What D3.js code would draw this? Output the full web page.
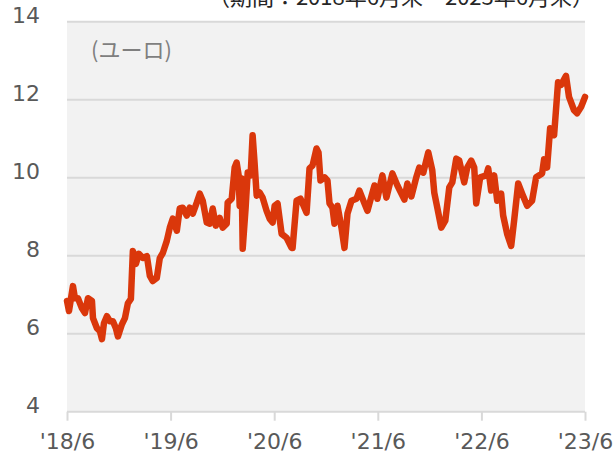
<!DOCTYPE html>
<html>
<head>
<meta charset="utf-8">
<script src="https://cdn.jsdelivr.net/npm/d3@7"></script>
<style>
  body { margin: 0; background: #fff; }
  svg { display: block; }
</style>
</head>
<body>
<svg id="chart"></svg>
<script>
// months since 2018/6 end, and price in euro
const months = [
  0, 0.23, 0.69, 0.92, 1.27, 1.73, 2.08, 2.43, 2.89, 3.01,
  3.47, 3.82, 4.05, 4.28, 4.62, 4.97, 5.32, 5.66, 5.90, 6.36,
  6.71, 7.05, 7.40, 7.63, 7.98, 8.32, 8.79, 9.25, 9.60, 9.94,
  10.40, 10.75, 11.10, 11.56, 11.91, 12.25, 12.72, 13.06, 13.41, 13.87,
  14.22, 14.57, 15.03, 15.38, 15.72, 16.19, 16.53, 16.88, 17.23, 17.69,
  18.03, 18.50, 18.61, 19.08, 19.42, 19.65, 19.88, 20.00, 20.23, 20.35,
  20.69, 20.93, 21.27, 21.50, 21.73, 21.97, 22.31, 22.66, 23.12, 23.47,
  23.82, 24.05, 24.39, 24.86, 25.43, 26.01, 26.13, 26.59, 27.05, 27.75,
  28.09, 28.44, 28.90, 29.13, 29.36, 29.83, 30.17, 30.41, 30.75, 30.98,
  31.33, 31.79, 32.14, 32.49, 32.95, 33.53, 33.87, 34.45, 34.80, 35.61,
  35.95, 36.53, 37.00, 37.69, 38.27, 39.08, 39.42, 39.89, 40.46, 40.81,
  41.27, 41.85, 42.31, 42.54, 42.89, 43.35, 43.82, 44.28, 44.63, 45.09,
  45.43, 46.01, 46.36, 46.82, 47.17, 47.40, 47.86, 48.56, 48.79, 49.13,
  49.48, 49.83, 50.29, 50.52, 50.98, 51.45, 51.79, 52.26, 52.72, 53.30,
  53.87, 54.34, 55.03, 55.26, 55.61, 55.96, 56.42, 56.88, 57.23, 57.80,
  58.15, 58.73, 59.08, 59.54, 60
];
const prices = [
  6.84, 6.58, 7.22, 6.91, 6.91, 6.65, 6.53, 6.91, 6.84, 6.40,
  6.14, 6.06, 5.86, 6.27, 6.45, 6.32, 6.32, 6.14, 5.93, 6.24,
  6.40, 6.78, 6.89, 8.12, 7.79, 8.05, 7.94, 7.99, 7.48, 7.35,
  7.43, 7.94, 8.07, 8.38, 8.72, 8.95, 8.64, 9.21, 9.23, 9.03,
  9.23, 9.08, 9.36, 9.59, 9.41, 8.85, 8.82, 9.21, 8.77, 8.97,
  8.72, 8.82, 9.36, 9.46, 10.26, 10.39, 10.06, 9.28, 9.98, 8.18,
  9.23, 10.13, 10.06, 11.09, 10.37, 9.54, 9.62, 9.49, 9.15, 8.95,
  8.85, 9.28, 9.34, 8.56, 8.46, 8.20, 8.20, 9.41, 9.46, 9.10,
  10.24, 10.31, 10.75, 10.65, 9.93, 10.01, 9.93, 9.34, 9.23, 8.82,
  9.28, 8.72, 8.20, 9.08, 9.41, 9.46, 9.67, 9.34, 9.15, 9.80,
  9.46, 10.06, 9.49, 10.11, 9.80, 9.44, 9.85, 9.52, 10.01, 10.26,
  10.13, 10.65, 10.19, 9.62, 9.23, 8.72, 8.90, 9.75, 9.88, 10.49,
  10.44, 9.88, 10.26, 10.44, 10.26, 9.34, 10.01, 10.06, 10.24, 9.67,
  10.06, 9.41, 9.59, 9.03, 8.56, 8.25, 8.90, 9.85, 9.59, 9.28,
  9.41, 10.01, 10.11, 10.47, 10.26, 11.27, 11.09, 12.45, 12.38, 12.61,
  12.07, 11.73, 11.65, 11.81, 12.07
];
const xTicks = [0, 12, 24, 36, 48, 60];
const xTickLabels = ["'18/6", "'19/6", "'20/6", "'21/6", "'22/6", "'23/6"];
const yTicks = [4, 6, 8, 10, 12, 14];
const unitLabel = '(ユーロ)';
const periodLabel = '（期間：2018年6月末～2023年6月末）';

const width = 616, height = 457;
const margin = { top: 21.7, right: 31, bottom: 45.3, left: 67 };
const innerW = width - margin.left - margin.right;
const innerH = height - margin.top - margin.bottom;

const svg = d3.select('#chart')
  .attr('width', width)
  .attr('height', height);

const g = svg.append('g')
  .attr('transform', `translate(${margin.left},${margin.top})`);

const x = d3.scaleLinear().domain([0, 60]).range([0, innerW]);
const y = d3.scaleLinear().domain([4, 14]).range([innerH, 0]);

// plot background
g.append('rect')
  .attr('width', innerW)
  .attr('height', innerH)
  .attr('fill', '#f2f2f2');

// gridlines
g.selectAll('.grid')
  .data(yTicks)
  .join('line')
  .attr('class', 'grid')
  .attr('x1', 0)
  .attr('x2', innerW)
  .attr('y1', d => y(d))
  .attr('y2', d => y(d))
  .attr('stroke', '#d9d9d9')
  .attr('stroke-width', 2);

// x axis ticks
const xAxis = d3.axisBottom(x)
  .tickValues(xTicks)
  .tickSize(9)
  .tickPadding(13)
  .tickFormat((d, i) => xTickLabels[i]);

const xAxisG = g.append('g')
  .attr('transform', `translate(0,${innerH})`)
  .call(xAxis);
xAxisG.select('.domain').remove();
xAxisG.selectAll('.tick line')
  .attr('stroke', '#d9d9d9')
  .attr('stroke-width', 2);
xAxisG.selectAll('text')
  .attr('fill', '#595959')
  .style('font-family', 'DejaVu Sans, sans-serif')
  .style('font-size', '22px');

// y axis labels
const yAxis = d3.axisLeft(y)
  .tickValues(yTicks)
  .tickSize(0)
  .tickPadding(27);

const yAxisG = g.append('g').call(yAxis);
yAxisG.select('.domain').remove();
yAxisG.selectAll('text')
  .attr('fill', '#595959')
  .attr('dy', '0.02em')
  .style('font-family', 'DejaVu Sans, sans-serif')
  .style('font-size', '22px');

// price line
const data = months.map((m, i) => ({ m: m, v: prices[i] }));
const line = d3.line()
  .x(d => x(d.m))
  .y(d => y(d.v));

g.append('path')
  .datum(data)
  .attr('d', line)
  .attr('fill', 'none')
  .attr('stroke', '#da370b')
  .attr('stroke-width', 6.5)
  .attr('stroke-linejoin', 'round')
  .attr('stroke-linecap', 'round');

// unit label
svg.append('text')
  .attr('x', 91)
  .attr('y', 58)
  .attr('fill', '#7f7f7f')
  .style('font-family', 'Noto Sans CJK JP, sans-serif')
  .style('font-size', '22px')
  .text(unitLabel);

// period label (cut off at the top, as in the source)
svg.append('text')
  .attr('x', 594)
  .attr('y', 5)
  .attr('text-anchor', 'end')
  .attr('fill', '#262626')
  .style('font-family', 'Noto Sans CJK JP, sans-serif')
  .style('font-size', '22px')
  .text(periodLabel);
</script>
</body>
</html>
